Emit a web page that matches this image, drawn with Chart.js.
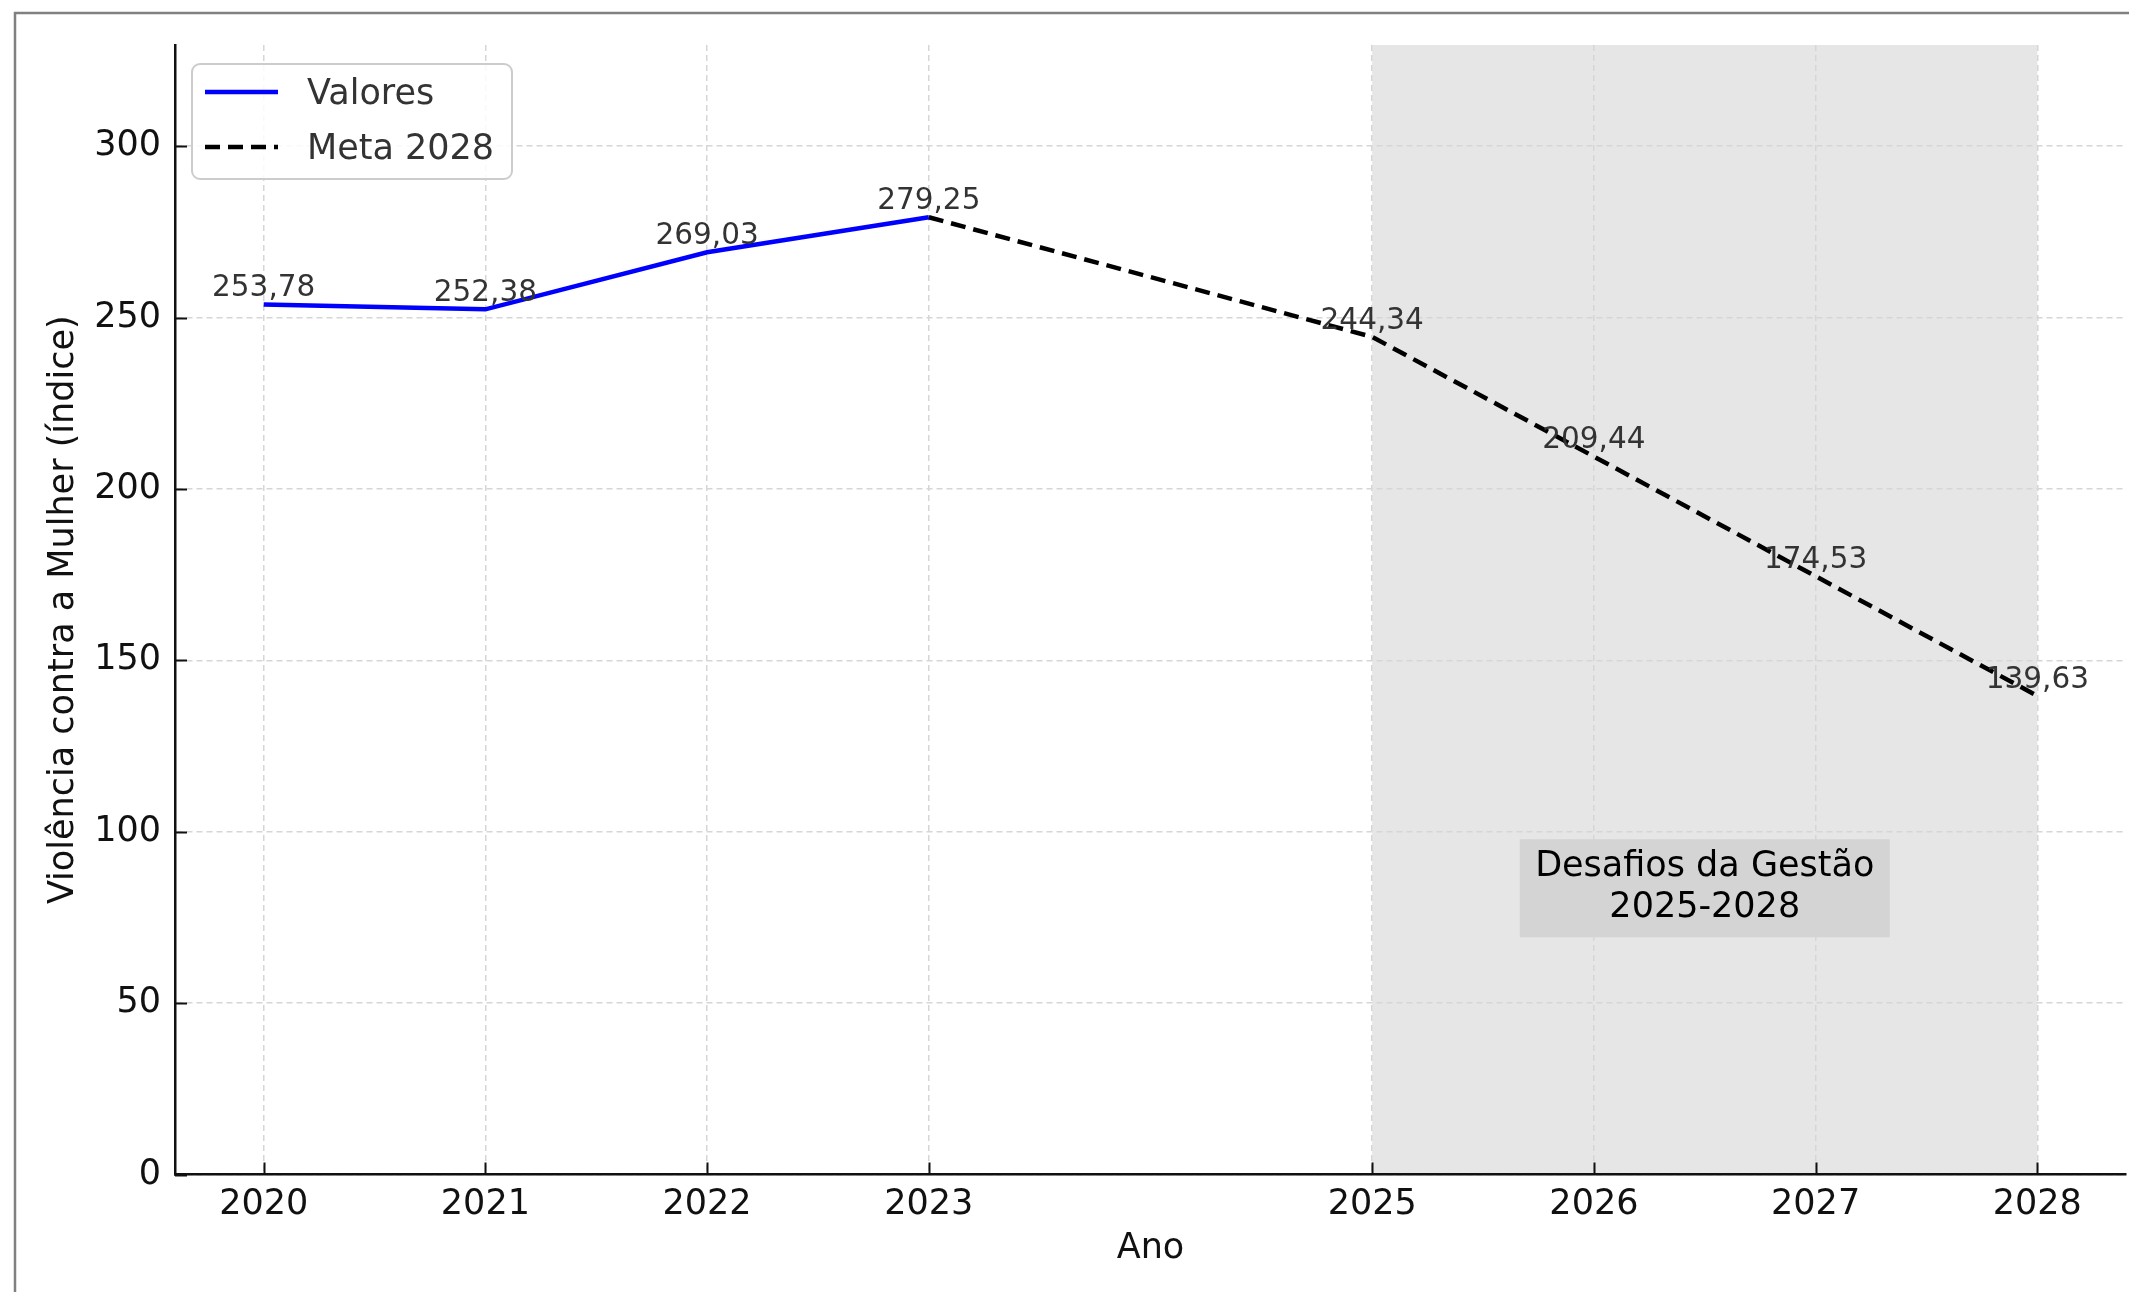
<!DOCTYPE html>
<html>
<head>
<meta charset="utf-8">
<script src="https://cdn.jsdelivr.net/npm/chart.js@4/dist/chart.umd.min.js"></script>
<style>
  html, body { margin: 0; padding: 0; background: #fff; }
  canvas { display: block; }
</style>
</head>
<body>
<canvas id="grafico" width="2129" height="1292"></canvas>
<script>
// dados
const anos = [2020, 2021, 2022, 2023];
const valores = [253.78, 252.38, 269.03, 279.25];
const anosMeta = [2023, 2025, 2026, 2027, 2028];
const valoresMeta = [279.25, 244.34, 209.44, 174.53, 139.63];
const rotulosAnos = [2020, 2021, 2022, 2023, 2025, 2026, 2027, 2028];
const rotulosY = [0, 50, 100, 150, 200, 250, 300];
const faixaGestao = [2025, 2028];
const textoFaixa = ['Desafios da Gestão', '2025-2028'];

const FONTE = '"DejaVu Sans", sans-serif';
const fmt = v => v.toFixed(2).replace('.', ',');

const extras = {
  id: 'extras',
  beforeDraw(chart) {
    const { ctx, chartArea: a, scales: { x } } = chart;
    // faixa cinza 2025-2028
    ctx.save();
    ctx.fillStyle = '#e6e6e6';
    const x1 = x.getPixelForValue(faixaGestao[0]);
    const x2 = x.getPixelForValue(faixaGestao[1]);
    ctx.fillRect(x1, a.top, x2 - x1, a.bottom - a.top);
    ctx.restore();
  },
  afterDatasetsDraw(chart) {
    const { ctx, chartArea: a, scales: { x, y } } = chart;
    ctx.save();

    // rotulos dos pontos
    ctx.font = '29.5px ' + FONTE;
    ctx.fillStyle = '#333';
    ctx.textAlign = 'center';
    ctx.textBaseline = 'middle';
    const pontos = anos.map((a, i) => [a, valores[i]])
      .concat(anosMeta.slice(1).map((a, i) => [a, valoresMeta[i + 1]]));
    pontos.forEach(([ano, v]) => {
      ctx.fillText(fmt(v), x.getPixelForValue(ano), y.getPixelForValue(v) - 16);
    });

    // caixa "Desafios da Gestão"
    const cx = x.getPixelForValue(2026.5);
    const cy = y.getPixelForValue(83.5);
    ctx.fillStyle = '#d4d4d4';
    ctx.fillRect(cx - 185, cy - 49, 370, 98);
    ctx.font = '35px ' + FONTE;
    ctx.fillStyle = '#000';
    ctx.fillText(textoFaixa[0], cx, cy - 21);
    ctx.fillText(textoFaixa[1], cx, cy + 20);

    // ticks para dentro
    ctx.strokeStyle = '#111';
    ctx.lineWidth = 2;
    ctx.beginPath();
    rotulosAnos.forEach(v => {
      const px = Math.round(x.getPixelForValue(v)) + 0.5;
      ctx.moveTo(px, a.bottom);
      ctx.lineTo(px, a.bottom - 12);
    });
    rotulosY.forEach(v => {
      const py = Math.round(y.getPixelForValue(v)) + 0.5;
      ctx.moveTo(a.left, py);
      ctx.lineTo(a.left + 12, py);
    });
    ctx.stroke();
    ctx.restore();
  },
  afterDraw(chart) {
    const { ctx, chartArea: a } = chart;
    ctx.save();

    // titulos dos eixos
    ctx.font = '35px ' + FONTE;
    ctx.fillStyle = '#111';
    ctx.textAlign = 'center';
    ctx.textBaseline = 'middle';
    ctx.fillText('Ano', (a.left + a.right) / 2, 1249);
    ctx.translate(64, (a.top + a.bottom) / 2);
    ctx.rotate(-Math.PI / 2);
    ctx.fillText('Violência contra a Mulher (índice)', 0, 0);
    ctx.setTransform(1, 0, 0, 1, 0, 0);

    // legenda
    ctx.fillStyle = 'rgba(255,255,255,0.85)';
    ctx.strokeStyle = '#cccccc';
    ctx.lineWidth = 2;
    ctx.beginPath();
    ctx.roundRect(192, 64, 320, 115, 8);
    ctx.fill();
    ctx.stroke();

    ctx.lineWidth = 4.5;
    ctx.strokeStyle = '#0000ff';
    ctx.beginPath();
    ctx.moveTo(205, 92); ctx.lineTo(278, 92);
    ctx.stroke();
    ctx.strokeStyle = '#000';
    ctx.setLineDash([15, 8]);
    ctx.beginPath();
    ctx.moveTo(205, 147); ctx.lineTo(278, 147);
    ctx.stroke();
    ctx.setLineDash([]);

    ctx.font = '35px ' + FONTE;
    ctx.fillStyle = '#333';
    ctx.textAlign = 'left';
    ctx.fillText('Valores', 307, 95);
    ctx.fillText('Meta 2028', 307, 150);

    // moldura da imagem
    ctx.strokeStyle = '#808080';
    ctx.lineWidth = 2.5;
    ctx.beginPath();
    ctx.moveTo(2129, 13);
    ctx.lineTo(15, 13);
    ctx.lineTo(15, 1292);
    ctx.stroke();
    ctx.restore();
  }
};

new Chart(document.getElementById('grafico'), {
  type: 'line',
  data: {
    datasets: [
      {
        label: 'Valores',
        data: anos.map((a, i) => ({ x: a, y: valores[i] })),
        borderColor: '#0000ff',
        borderWidth: 4.5,
        pointRadius: 0,
        tension: 0
      },
      {
        label: 'Meta 2028',
        data: anosMeta.map((a, i) => ({ x: a, y: valoresMeta[i] })),
        borderColor: '#000000',
        borderWidth: 4.5,
        borderDash: [15, 8],
        pointRadius: 0,
        tension: 0
      }
    ]
  },
  options: {
    responsive: false,
    devicePixelRatio: 1,
    animation: false,
    layout: { padding: { top: 45, right: 3, left: 0, bottom: 0 } },
    plugins: { legend: { display: false }, tooltip: { enabled: false } },
    scales: {
      x: {
        type: 'linear',
        min: 2019.6,
        max: 2028.4,
        afterBuildTicks: s => { s.ticks = rotulosAnos.map(v => ({ value: v })); },
        afterFit: s => { s.height = 117.5; },
        ticks: {
          font: { family: FONTE, size: 35 },
          color: '#111',
          padding: 9,
          autoSkip: false,
          maxRotation: 0,
          callback: v => String(v)
        },
        grid: { color: '#d6d6d6', lineWidth: 1.5, drawTicks: false },
        border: { color: '#111', width: 2.5, dash: [6, 4] }
      },
      y: {
        min: 0,
        max: 329.5,
        afterBuildTicks: s => { s.ticks = rotulosY.map(v => ({ value: v })); },
        afterFit: s => { s.width = 175; },
        ticks: {
          font: { family: FONTE, size: 35 },
          color: '#111',
          padding: 14,
          callback: v => String(v)
        },
        grid: { color: '#d6d6d6', lineWidth: 1.5, drawTicks: false },
        border: { color: '#111', width: 2.5, dash: [6, 4] }
      }
    }
  },
  plugins: [extras]
});
</script>
</body>
</html>
